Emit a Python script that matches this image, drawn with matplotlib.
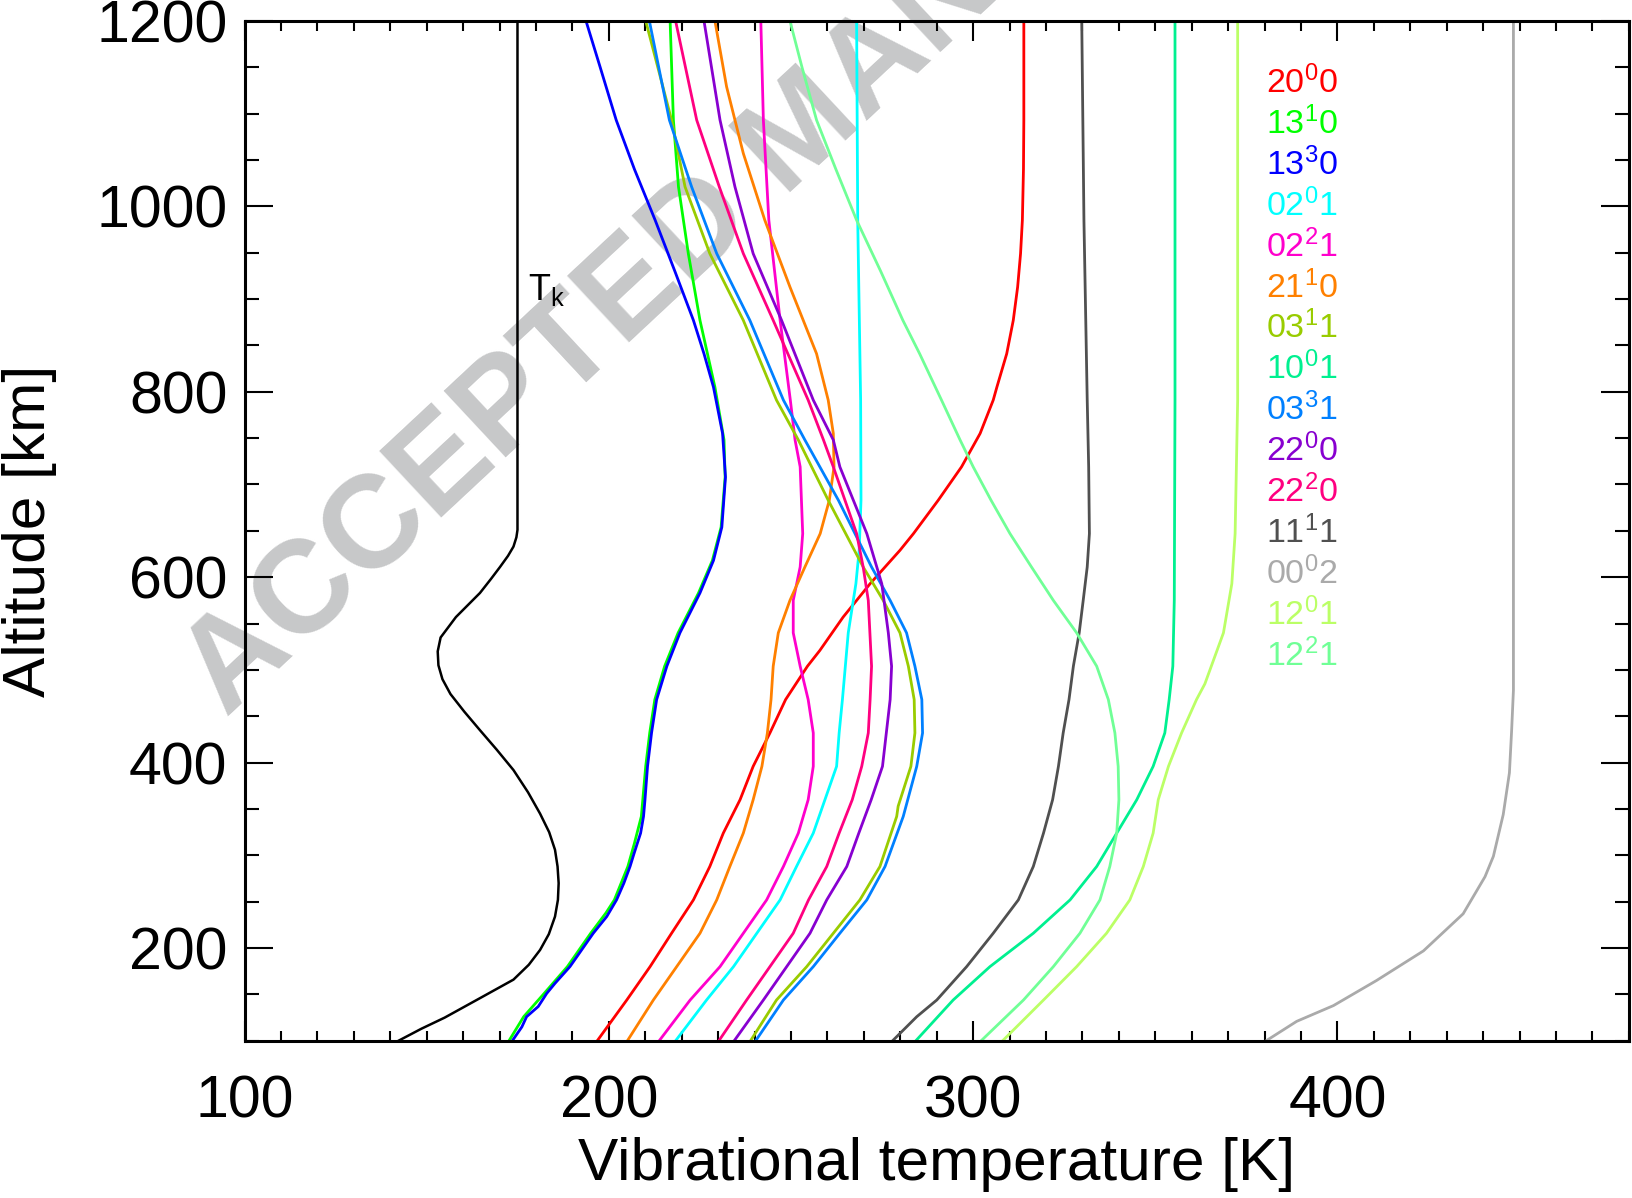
import numpy as np
import matplotlib.pyplot as plt
from matplotlib.ticker import MultipleLocator

plt.rcParams['font.family'] = ['Liberation Sans', 'DejaVu Sans']
plt.rcParams['mathtext.fontset'] = 'custom'
plt.rcParams['mathtext.rm'] = 'Liberation Sans'
plt.rcParams['mathtext.it'] = 'Liberation Sans:italic'
plt.rcParams['mathtext.bf'] = 'Liberation Sans:bold'

# kinetic temperature
alt_tk = [100, 113, 125, 146, 166, 182, 198, 215, 234, 252, 270, 288, 306, 325, 345, 368, 392, 414, 435, 455,
          474, 490, 505, 520, 535, 557, 583, 598, 611, 623, 633, 643, 651, 1200]
t_tk = [142.2, 148.5, 154.9, 164.6, 173.8, 178.0, 181.1, 183.5, 185.2, 186.0, 186.2, 185.9, 185.2, 183.6, 181.1,
        177.8, 173.8, 169.2, 164.6, 160.3, 156.5, 154.3, 153.2, 153.0, 153.8, 158.0, 164.6, 167.6, 170.1, 172.3,
        173.8, 174.6, 174.9, 174.9]

# vibrational temperatures, (altitude km, temperature K)
alt_200 = [99, 144, 180, 216, 252, 288, 324, 360, 396, 432, 468, 504, 521, 557, 593, 611, 629, 647, 683, 719, 755,
           791, 805, 841, 877, 913, 949, 985, 1040, 1093, 1200]
t_200 = [196.6, 204.9, 211.3, 217.2, 223.2, 227.7, 231.4, 236.0, 239.6, 244.2, 248.5, 254.5, 257.9, 264.3, 271.7,
         275.8, 279.9, 283.6, 290.4, 296.8, 301.9, 305.5, 306.5, 309.2, 311.0, 312.2, 313.0, 313.5, 313.8, 313.9, 313.9]

alt_1310 = [99, 126, 151, 180, 216, 238, 252, 288, 313, 342, 396, 432, 468, 504, 540, 583, 618, 654, 708, 748, 805,
            877, 949, 1021, 1093, 1200]
t_1310 = [172.4, 176.6, 182.2, 188.6, 195.0, 199.2, 201.5, 205.2, 207.0, 208.9, 210.1, 211.2, 212.6, 215.3, 219.0,
          224.6, 228.4, 230.8, 231.9, 231.6, 229.1, 225.0, 221.8, 219.1, 217.7, 216.8]

alt_1330 = [99, 115, 126, 137, 151, 162, 180, 198, 216, 234, 252, 270, 288, 302, 324, 342, 360, 396, 432, 468, 504,
            540, 583, 618, 654, 708, 755, 805, 841, 877, 930, 985, 1040, 1093, 1150, 1200]
t_1330 = [173.3, 176.1, 177.4, 180.6, 182.9, 185.2, 189.3, 192.5, 195.7, 199.4, 202.1, 204.1, 205.8, 206.9, 208.7,
          209.5, 209.9, 210.6, 211.7, 213.1, 215.9, 219.5, 225.0, 228.7, 231.0, 232.0, 231.2, 228.7, 226.1, 223.2,
          218.1, 212.7, 207.0, 202.0, 197.6, 193.7]

alt_0201 = [99, 144, 180, 216, 252, 288, 324, 360, 396, 432, 468, 540, 593, 629, 683, 791, 985, 1200]
t_0201 = [218.1, 226.8, 234.2, 240.6, 247.0, 251.5, 256.1, 259.3, 262.5, 263.2, 264.1, 265.7, 267.8, 268.7, 269.2,
          269.1, 268.3, 268.0]

alt_0221 = [99, 144, 180, 216, 252, 288, 324, 360, 396, 432, 468, 504, 540, 575, 611, 647, 719, 748, 791, 877, 985,
            1093, 1200]
t_0221 = [213.6, 222.3, 230.5, 236.9, 243.3, 247.9, 252.0, 254.7, 256.1, 256.1, 254.7, 252.5, 250.6, 250.6, 252.5,
          253.2, 252.5, 251.1, 249.8, 247.0, 243.9, 242.4, 241.7]

alt_2110 = [99, 144, 180, 216, 252, 288, 324, 360, 396, 432, 468, 504, 540, 575, 611, 647, 683, 719, 755, 791, 841,
            913, 985, 1057, 1129, 1200]
t_2110 = [204.9, 212.2, 218.6, 225.0, 229.6, 233.2, 236.9, 239.6, 242.0, 243.5, 244.5, 245.1, 246.5, 249.7, 253.8,
          258.0, 260.5, 261.8, 261.6, 260.2, 257.0, 249.7, 242.8, 236.9, 232.3, 229.1]

alt_0311 = [99, 144, 180, 216, 252, 288, 342, 353, 396, 432, 468, 504, 540, 575, 611, 647, 683, 748, 791, 877, 949,
            1021, 1093, 1200]
t_0311 = [238.7, 246.0, 254.3, 261.6, 268.9, 274.4, 279.0, 279.4, 282.9, 284.0, 283.8, 282.2, 279.9, 275.3, 269.8,
          265.0, 260.2, 252.0, 246.0, 236.9, 227.7, 220.9, 217.2, 210.1]

alt_1001 = [99, 144, 180, 216, 252, 288, 324, 360, 396, 432, 468, 504, 575, 791, 1200]
t_1001 = [284.0, 294.5, 304.6, 316.5, 326.6, 333.9, 339.4, 344.9, 349.4, 352.6, 353.8, 354.8, 355.2, 355.4, 355.4]

alt_0331 = [99, 144, 180, 216, 252, 288, 342, 396, 432, 468, 504, 540, 575, 611, 683, 748, 791, 877, 949, 1021,
            1093, 1200]
t_0331 = [240.1, 247.9, 256.1, 263.4, 270.8, 275.8, 280.8, 284.5, 286.1, 285.9, 284.0, 281.7, 277.2, 272.1, 263.0,
          253.8, 247.9, 238.7, 229.6, 222.7, 216.6, 211.1]

alt_2200 = [99, 144, 180, 216, 252, 288, 324, 360, 396, 468, 504, 540, 593, 647, 719, 748, 791, 877, 949, 1021,
            1093, 1200]
t_2200 = [234.2, 242.4, 248.8, 255.2, 259.8, 265.3, 268.6, 272.0, 275.1, 277.2, 277.6, 276.7, 274.9, 270.8, 263.4,
          261.6, 256.1, 247.4, 239.6, 234.6, 230.5, 226.1]

alt_2220 = [99, 144, 180, 216, 252, 288, 324, 360, 396, 432, 468, 504, 575, 611, 647, 719, 748, 791, 877, 949, 1021,
            1093, 1200]
t_2220 = [230.0, 237.8, 244.2, 250.6, 254.8, 259.8, 263.2, 266.8, 269.4, 271.2, 271.7, 272.1, 271.2, 269.8, 268.0,
          261.6, 258.9, 254.7, 245.1, 236.9, 230.3, 224.1, 218.3]

alt_1111 = [99, 126, 144, 180, 216, 252, 288, 324, 360, 396, 432, 468, 504, 540, 575, 611, 647, 719, 791, 985, 1200]
t_1111 = [277.6, 284.5, 290.0, 298.2, 305.5, 312.4, 316.5, 319.3, 321.8, 323.4, 324.7, 326.3, 327.5, 329.1, 330.2,
          331.3, 331.9, 331.7, 331.3, 330.4, 329.8]

alt_0002 = [98, 121, 138, 165, 197, 237, 277, 299, 344, 389, 434, 478, 1200]
t_0002 = [379.6, 388.8, 398.9, 410.7, 423.6, 434.5, 440.5, 442.8, 445.5, 447.2, 447.8, 448.3, 448.3]

alt_1201 = [99, 144, 180, 216, 252, 288, 324, 360, 396, 432, 468, 485, 540, 593, 647, 791, 1200]
t_1201 = [307.8, 319.3, 328.4, 336.6, 343.0, 346.7, 349.4, 350.8, 353.6, 357.2, 361.3, 363.6, 368.7, 371.0, 371.9,
          372.6, 372.6]

alt_1221 = [99, 144, 180, 216, 252, 288, 324, 360, 396, 432, 468, 504, 540, 575, 611, 647, 683, 719, 748, 791, 841,
            877, 930, 985, 1040, 1093, 1150, 1200]
t_1221 = [301.9, 313.8, 322.0, 329.3, 334.8, 337.5, 339.4, 340.0, 339.8, 338.9, 337.1, 333.9, 328.4, 322.0, 316.0,
          310.1, 304.9, 300.0, 296.4, 291.3, 285.3, 280.7, 274.6, 268.0, 262.3, 257.0, 253.0, 249.7]

labels = [r'$\mathregular{20^{0}0}$', r'$\mathregular{13^{1}0}$', r'$\mathregular{13^{3}0}$',
          r'$\mathregular{02^{0}1}$', r'$\mathregular{02^{2}1}$', r'$\mathregular{21^{1}0}$',
          r'$\mathregular{03^{1}1}$', r'$\mathregular{10^{0}1}$', r'$\mathregular{03^{3}1}$',
          r'$\mathregular{22^{0}0}$', r'$\mathregular{22^{2}0}$', r'$\mathregular{11^{1}1}$',
          r'$\mathregular{00^{0}2}$', r'$\mathregular{12^{0}1}$', r'$\mathregular{12^{2}1}$']
colors = ['#ff0000', '#00ff00', '#0000ff', '#00ffff', '#ff00cc', '#ff8000', '#99cc00',
          '#00f090', '#0080ff', '#8800d0', '#ff0080', '#505050', '#aaaaaa', '#bbff66', '#70ff96']
series = [(t_200, alt_200), (t_1310, alt_1310), (t_1330, alt_1330), (t_0201, alt_0201),
          (t_0221, alt_0221), (t_2110, alt_2110), (t_0311, alt_0311), (t_1001, alt_1001),
          (t_0331, alt_0331), (t_2200, alt_2200), (t_2220, alt_2220), (t_1111, alt_1111),
          (t_0002, alt_0002), (t_1201, alt_1201), (t_1221, alt_1221)]

fig = plt.figure(figsize=(16.32, 11.98), dpi=100)
ax = fig.add_axes([0.1499, 0.1312, 0.8482, 0.8514])
ax.set_facecolor('none')

# watermark behind the curves
ax.text(226 / 1632, 1 - 718 / 1198, 'ACCEPTED MANUSCRIPT', transform=fig.transFigure,
        rotation=43, rotation_mode='anchor', ha='left', va='baseline',
        fontsize=95, fontweight='bold', color='#c7c8c9', zorder=1, clip_on=False)

ax.plot(t_tk, alt_tk, color='black', lw=1.8, zorder=3)
ax.text(177.9, 899, r'$\mathregular{T_k}$', fontsize=26, ha='left', va='baseline')

for (t, a), c in zip(series, colors):
    ax.plot(t, a, color=c, lw=2.0, zorder=3)

for i, (lab, c) in enumerate(zip(labels, colors)):
    ax.text(380.3, 1133 - i * 44.1, lab, color=c, fontsize=24.5, ha='left', va='center')

ax.set_xlim(100, 480)
ax.set_ylim(100, 1200)
ax.xaxis.set_major_locator(MultipleLocator(100))
ax.xaxis.set_minor_locator(MultipleLocator(10))
ax.yaxis.set_major_locator(MultipleLocator(200))
ax.yaxis.set_minor_locator(MultipleLocator(50))
ax.set_xticks([100, 200, 300, 400])
ax.set_yticks([200, 400, 600, 800, 1000, 1200])
ax.tick_params(axis='both', which='both', direction='in', top=True, right=True, width=1.5)
ax.tick_params(axis='x', which='major', length=14.5, pad=24, labelsize=42.5)
ax.tick_params(axis='x', which='minor', length=7.2)
ax.tick_params(axis='y', which='major', length=20, pad=12.5, labelsize=42.5)
ax.tick_params(axis='y', which='minor', length=10)
for s in ax.spines.values():
    s.set_linewidth(2.2)
    s.set_zorder(4)

ax.set_xlabel('Vibrational temperature [K]', fontsize=43.5, labelpad=6)
ax.set_ylabel('Altitude [km]', fontsize=43.5, labelpad=28)

fig.savefig('out.png', dpi=100)
